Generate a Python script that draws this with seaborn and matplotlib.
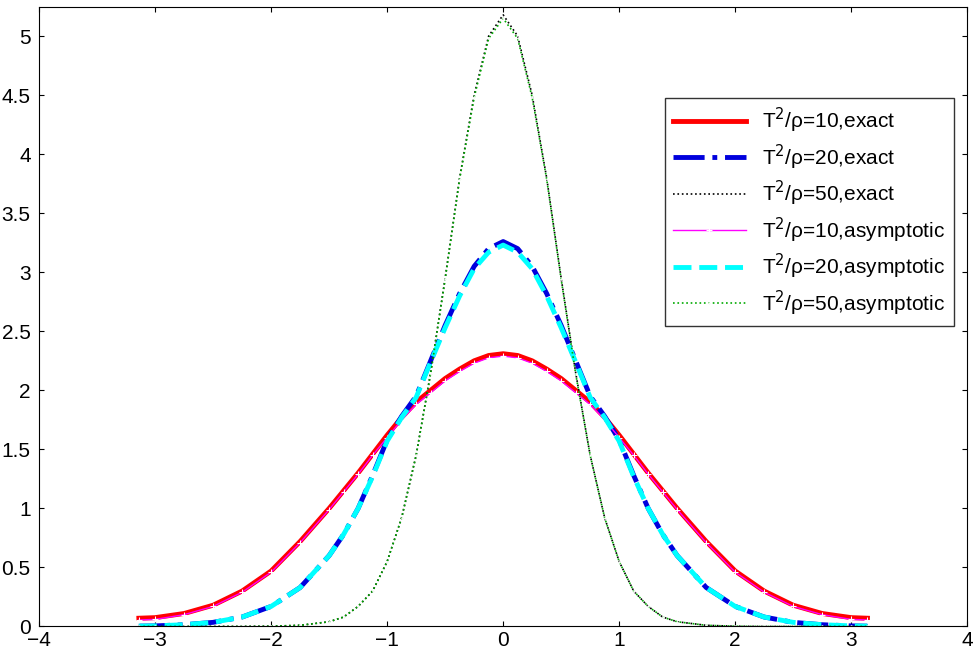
import numpy as np
import pandas as pd
import matplotlib
matplotlib.use('Agg')
import matplotlib.pyplot as plt
import seaborn as sns

# sample positions (half curve, mirrored)
x_half = [0, 0.125, 0.25, 0.375, 0.5, 0.625, 0.75, 0.875, 1.0, 1.125, 1.25, 1.375, 1.5,
          1.75, 2.0, 2.25, 2.5, 2.75, 3.0, 3.14]

exact10 = [2.31, 2.295, 2.25, 2.18, 2.1, 2.0, 1.9, 1.77, 1.62, 1.46, 1.3, 1.15, 1.0,
           0.72, 0.47, 0.3, 0.18, 0.11, 0.075, 0.07]
exact20 = [3.26, 3.2, 3.05, 2.82, 2.55, 2.25, 1.95, 1.78, 1.58, 1.28, 1.0, 0.78, 0.6,
           0.33, 0.17, 0.08, 0.035, 0.015, 0.005, 0.003]
exact50 = [5.18, 5.0, 4.5, 3.8, 2.95, 2.15, 1.45, 0.92, 0.55, 0.3, 0.17, 0.08, 0.04,
           0.01, 0.002, 0.0, 0.0, 0.0, 0.0, 0.0]
asym10 = [2.29, 2.275, 2.23, 2.16, 2.08, 1.98, 1.88, 1.75, 1.6, 1.45, 1.29, 1.14, 0.99,
          0.71, 0.46, 0.29, 0.17, 0.1, 0.06, 0.055]
asym20 = [3.23, 3.17, 3.03, 2.8, 2.53, 2.24, 1.94, 1.77, 1.57, 1.27, 1.0, 0.78, 0.6,
          0.33, 0.17, 0.08, 0.035, 0.015, 0.005, 0.003]
asym50 = [5.15, 4.98, 4.48, 3.79, 2.94, 2.14, 1.45, 0.92, 0.55, 0.3, 0.17, 0.08, 0.04,
          0.01, 0.002, 0.0, 0.0, 0.0, 0.0, 0.0]


def mirror(xs, ys):
    xx = [-v for v in xs[::-1]] + xs[1:]
    yy = ys[::-1] + ys[1:]
    return xx, yy


plt.rcParams['font.family'] = ['Liberation Sans', 'DejaVu Sans']
fig, ax = plt.subplots(figsize=(9.77, 6.56), dpi=100)

series = [
    (exact10, r'T$^2$/ρ=10,exact', dict(color='red', linewidth=3.5, linestyle='-')),
    (exact20, r'T$^2$/ρ=20,exact', dict(color='#0000dd', linewidth=3.5, linestyle='-.')),
    (exact50, r'T$^2$/ρ=50,exact', dict(color='black', linewidth=1.2, linestyle=':')),
    (asym10, r'T$^2$/ρ=10,asymptotic', dict(color='magenta', linewidth=1, linestyle='-', marker='+', markersize=4)),
    (asym20, r'T$^2$/ρ=20,asymptotic', dict(color='cyan', linewidth=3.5, linestyle='--')),
    (asym50, r'T$^2$/ρ=50,asymptotic', dict(color='#00aa00', linewidth=1.2, linestyle=':', marker='.', markersize=2)),
]
for ys, lab, kw in series:
    xx, yy = mirror(x_half, ys)
    sns.lineplot(x=xx, y=yy, ax=ax, sort=False, label=lab, **kw)

ax.set_xlim(-4, 4)
ax.set_ylim(0, 5.25)
ax.set_xticks(range(-4, 5))
ax.set_yticks(np.arange(0, 5.01, 0.5))
ax.set_yticklabels(['0', '0.5', '1', '1.5', '2', '2.5', '3', '3.5', '4', '4.5', '5'])
ax.set_xticklabels(['\u22124', '\u22123', '\u22122', '\u22121', '0', '1', '2', '3', '4'])
ax.tick_params(direction='in', labelsize=15, top=True, right=True)
ax.tick_params(axis='y', pad=6)
leg = ax.legend(loc='upper right', bbox_to_anchor=(0.99, 0.86), fontsize=15,
                frameon=True, fancybox=False, edgecolor='black', handlelength=3.5,
                borderaxespad=0.2, labelspacing=0.35)
leg.get_frame().set_linewidth(1)
plt.subplots_adjust(left=0.04, right=0.99, top=0.99, bottom=0.045)
fig.savefig('out.png', dpi=100)
